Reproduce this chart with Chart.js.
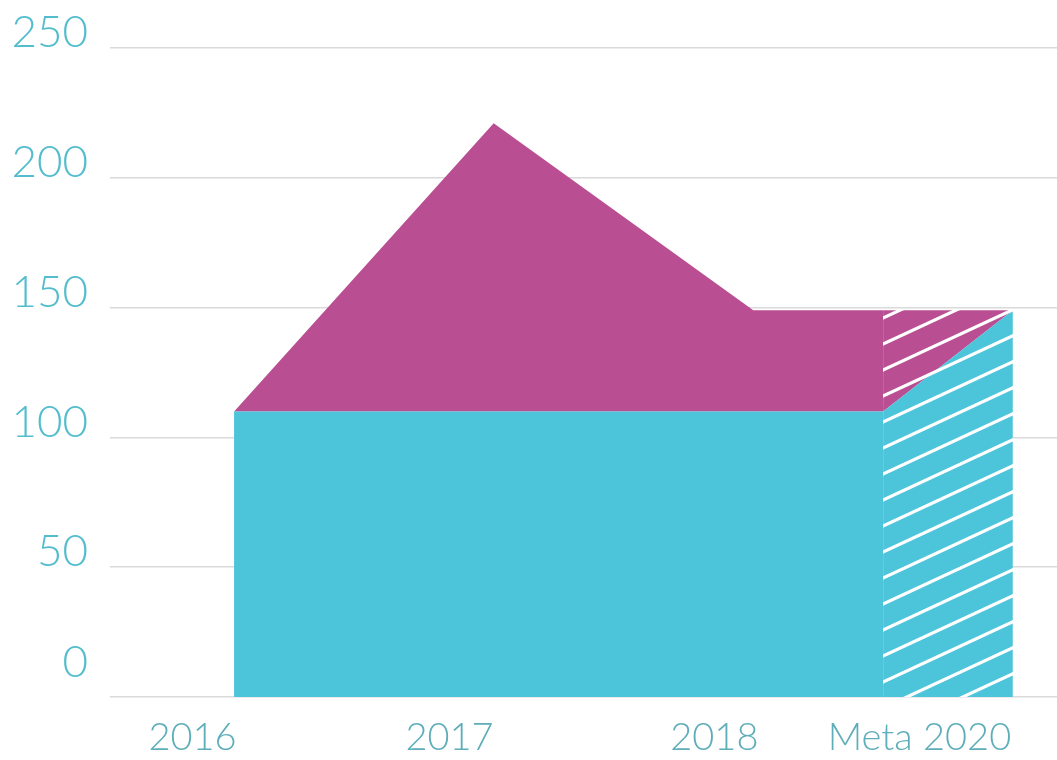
<!DOCTYPE html>
<html>
<head>
<meta charset="utf-8">
<script src="https://cdn.jsdelivr.net/npm/chart.js@4"></script>
<style>
  html, body { margin: 0; padding: 0; background: #fff; }
  #wrap { width: 1057px; height: 760px; }
</style>
</head>
<body>
<div id="wrap"><canvas id="myChart"></canvas></div>
<script>
// data
var categories = ['2016', '2017', '2018', 'Meta 2020'];
var labelPos = [0.84, 1.83, 2.85, 3.64];   // where the year labels sit on the x scale
var xPos = [1, 2, 3, 3.5, 4];
var baseValues = [110, 110, 110, 110, 149];
var topValues = [110, 221, 149, 149, 149];
var yTicks = [0, 50, 100, 150, 200, 250];

var cyan = '#4cc4da';
var magenta = '#b94e92';

function stripes(bg) {
    var c = document.createElement('canvas');
    c.width = 56;
    c.height = 26;
    var g = c.getContext('2d');
    g.fillStyle = bg;
    g.fillRect(0, 0, 56, 26);
    g.strokeStyle = '#ffffff';
    g.lineWidth = 3.2;
    [-26, 0, 26].forEach(function (d) {
        g.beginPath();
        g.moveTo(-2, 26 + d + 0.93);
        g.lineTo(58, d - 0.93);
        g.stroke();
    });
    return g.createPattern(c, 'repeat');
}
var cyanHatch = stripes(cyan);
var magentaHatch = stripes(magenta);

function pts(vals) {
    return xPos.map(function (x, i) { return { x: x, y: vals[i] }; });
}

var ctx = document.getElementById('myChart');
var myChart = new Chart(ctx, {
    type: 'line',
    data: {
        datasets: [{
            label: 'base',
            data: pts(baseValues),
            backgroundColor: cyan,
            borderWidth: 0,
            pointRadius: 0,
            fill: 'origin',
            segment: {
                backgroundColor: function (c) { return c.p0.parsed.x >= 3.5 ? cyanHatch : undefined; }
            }
        }, {
            label: 'top',
            data: pts(topValues),
            backgroundColor: magenta,
            borderWidth: 0,
            pointRadius: 0,
            fill: '-1',
            segment: {
                backgroundColor: function (c) { return c.p0.parsed.x >= 3.5 ? magentaHatch : undefined; }
            }
        }]
    },
    options: {
        responsive: true,
        maintainAspectRatio: false,
        animation: false,
        layout: { padding: { top: 48, right: 0, left: 0, bottom: 0 } },
        plugins: {
            legend: { display: false },
            tooltip: { enabled: false }
        },
        scales: {
            x: {
                type: 'linear',
                min: 0.522,
                max: 4.17,
                grid: { display: false },
                border: { display: false },
                afterBuildTicks: function (scale) {
                    scale.ticks = labelPos.map(function (v) { return { value: v }; });
                },
                afterFit: function (scale) {
                    scale.height = 63;
                    scale.paddingLeft = 0;
                    scale.paddingRight = 0;
                },
                ticks: {
                    autoSkip: false,
                    maxRotation: 0,
                    padding: 10,
                    color: '#5eaeb9',
                    font: { family: 'Lato', size: 38, weight: 300 },
                    callback: function (v, i) { return categories[i]; }
                }
            },
            y: {
                min: 0,
                max: 250,
                afterBuildTicks: function (scale) {
                    scale.ticks = yTicks.map(function (v) { return { value: v }; });
                },
                afterFit: function (scale) {
                    scale.width = 110;
                    scale.paddingTop = 0;
                    scale.paddingBottom = 0;
                },
                grid: { color: '#dadada', lineWidth: 1.5, drawTicks: false },
                border: { display: false },
                ticks: {
                    padding: 22,
                    labelOffset: -15,
                    color: '#53bdce',
                    font: function (c) {
                        var zero = c.tick && c.tick.value === 0;
                        return { family: 'Lato', size: 44, weight: 300, lineHeight: zero ? 0.85 : 1.2 };
                    },
                    callback: function (v) { return v === 0 ? ['0', ''] : String(v); }
                }
            }
        }
    }
});
</script>
</body>
</html>
